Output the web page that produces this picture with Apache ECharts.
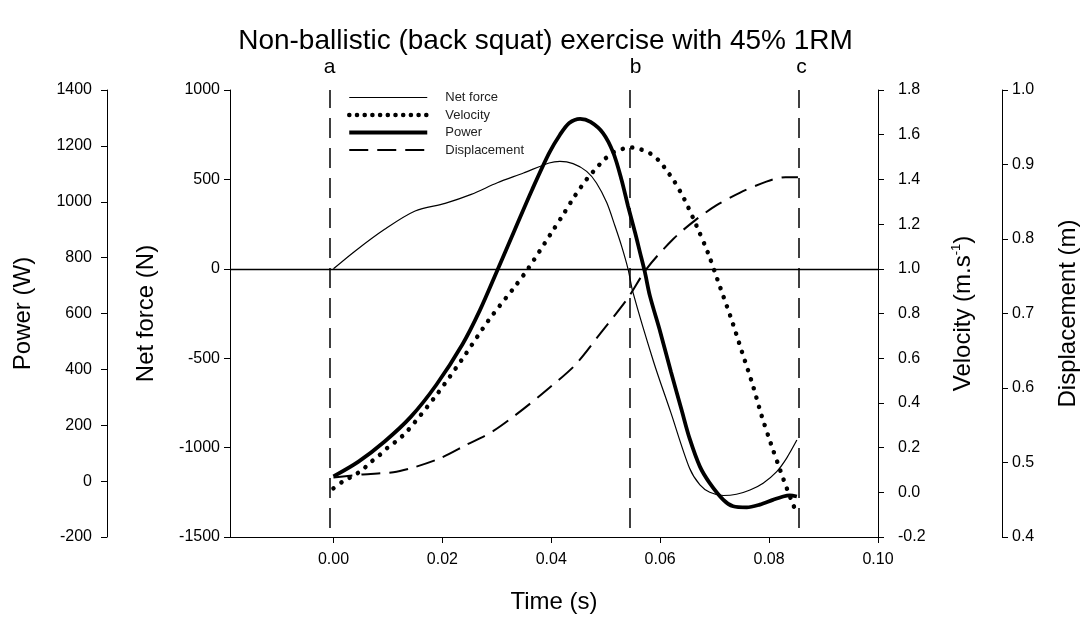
<!DOCTYPE html>
<html>
<head>
<meta charset="utf-8">
<script src="https://cdn.jsdelivr.net/npm/echarts@6/dist/echarts.min.js"></script>
<style>
  html, body { margin: 0; padding: 0; background: #fff; }
  #chart { width: 1091px; height: 619px; }
</style>
</head>
<body>
<div id="chart"></div>
<script>
// values (time in s)
const forceTime = [0, 0.004, 0.0094, 0.015, 0.0205, 0.0253, 0.0301, 0.0349, 0.0396, 0.0416, 0.044, 0.0465, 0.0483, 0.0502, 0.0517, 0.0529, 0.0541, 0.055, 0.0588, 0.0619, 0.0654, 0.0673, 0.0691, 0.0716, 0.074, 0.0765, 0.0789, 0.0814, 0.0832, 0.0851]
const forceValues = [0, 100, 221, 323, 366, 416, 481, 536, 592, 601, 588, 545, 480, 369, 239, 128, -2, -132, -521, -799, -1116, -1209, -1250, -1268, -1261, -1237, -1199, -1134, -1060, -958]

const velocityTime = [0, 0.0018, 0.0035, 0.0053, 0.0068, 0.0084, 0.0100, 0.0117, 0.0135, 0.0189, 0.0237, 0.0285, 0.0333, 0.0357, 0.0400, 0.0422, 0.0443, 0.0467, 0.0482, 0.0497, 0.0514, 0.0532, 0.0549, 0.0566, 0.0583, 0.0600, 0.0613, 0.0625, 0.0644, 0.0667, 0.0688, 0.0706, 0.0730, 0.0750, 0.0770, 0.0786, 0.0803, 0.0821, 0.0833, 0.0846]
const velocityValues = [0.018, 0.05, 0.072, 0.10, 0.134, 0.165, 0.201, 0.232, 0.272, 0.435, 0.598, 0.77, 0.92, 0.999, 1.16, 1.243, 1.325, 1.407, 1.448, 1.488, 1.521, 1.537, 1.543, 1.533, 1.514, 1.478, 1.436, 1.395, 1.313, 1.191, 1.07, 0.946, 0.78, 0.63, 0.48, 0.345, 0.22, 0.095, 0.015, -0.066]

const powerTime = [0, 0.0046, 0.0094, 0.0142, 0.0189, 0.0237, 0.0269, 0.0301, 0.0333, 0.0365, 0.0396, 0.0416, 0.0433, 0.0453, 0.0472, 0.0495, 0.0514, 0.0529, 0.0541, 0.0554, 0.0563, 0.0572, 0.0581, 0.0600, 0.0620, 0.0640, 0.0654, 0.0673, 0.0691, 0.0716, 0.0734, 0.0759, 0.0783, 0.0807, 0.0826, 0.0838, 0.0851]
const powerValues = [17, 70, 142, 230, 345, 490, 612, 755, 900, 1044, 1174, 1240, 1282, 1297, 1286, 1246, 1175, 1079, 984, 889, 818, 747, 664, 535, 390, 250, 153, 52, -7, -67, -90, -94, -84, -67, -55, -51, -55]

const dispTime = [0, 0.0054, 0.011, 0.015, 0.0197, 0.0245, 0.0293, 0.0349, 0.0396, 0.0444, 0.0492, 0.054, 0.0575, 0.0624, 0.0664, 0.0703, 0.0746, 0.0795, 0.083, 0.0853]
const dispValues = [0.480, 0.484, 0.487, 0.494, 0.506, 0.524, 0.542, 0.572, 0.600, 0.631, 0.675, 0.72, 0.76, 0.80, 0.825, 0.845, 0.862, 0.877, 0.883, 0.883]

// phase markers a, b, c
const phaseNames = ['a', 'b', 'c']
const phaseTimes = [-0.0007, 0.0544, 0.0854]

const timeTicks = [0, 0.02, 0.04, 0.06, 0.08, 0.10]

const font = 'Liberation Sans, Arial, sans-serif'
const zip = (xs, ys) => xs.map((x, i) => [x, ys[i]])

const forceLine = { color: '#000', width: 1.2, type: 'solid' }
const velocityLine = { color: '#000', width: 4.5, type: [0.1, 9.5], cap: 'round' }
const powerLine = { color: '#000', width: 3.8, type: 'solid' }
const dispLine = { color: '#000', width: 2, type: [19, 9] }

const chart = echarts.init(document.getElementById('chart'), null, { renderer: 'canvas' })

function yAxisBase(extra, margin, digits) {
  return Object.assign({
    type: 'value',
    nameLocation: 'middle',
    nameRotate: 90,
    nameTextStyle: { fontSize: 24, color: '#000', fontFamily: font },
    axisLine: { show: true, onZero: false, lineStyle: { color: '#000', width: 1 } },
    axisTick: { show: true, length: 6, lineStyle: { color: '#000' } },
    axisLabel: {
      fontSize: 16, color: '#000', fontFamily: font, margin: margin,
      formatter: v => digits ? v.toFixed(digits) : String(Math.round(v))
    },
    splitLine: { show: false }
  }, extra)
}

let option = {
  backgroundColor: '#fff',
  animation: false,
  title: {
    text: 'Non-ballistic (back squat) exercise with 45% 1RM',
    left: 'center',
    top: 22,
    textStyle: { fontSize: 28, fontWeight: 'normal', color: '#000', fontFamily: font }
  },
  legend: {
    data: [
      { name: 'Net force', lineStyle: forceLine },
      { name: 'Velocity', lineStyle: Object.assign({}, velocityLine, { type: [0.1, 7.6] }) },
      { name: 'Power', lineStyle: powerLine },
      { name: 'Displacement', lineStyle: dispLine }
    ],
    orient: 'vertical',
    left: 342,
    top: 86,
    itemWidth: 78,
    itemHeight: 14,
    itemGap: 4.5,
    itemStyle: { opacity: 0 },
    textStyle: { fontSize: 13, color: '#222', fontFamily: font, padding: [0, 0, 0, 13] },
    selectedMode: false
  },
  grid: { left: 230, right: 213, top: 90, bottom: 80, containLabel: false },
  xAxis: {
    type: 'value',
    min: -0.019,
    max: 0.1,
    name: 'Time (s)',
    nameLocation: 'middle',
    nameGap: 53,
    nameTextStyle: { fontSize: 24, color: '#000', fontFamily: font },
    axisLine: { show: true, onZero: false, lineStyle: { color: '#000', width: 1 } },
    axisTick: { show: true, length: 6, customValues: timeTicks, lineStyle: { color: '#000' } },
    axisLabel: {
      customValues: timeTicks, fontSize: 16, color: '#000', fontFamily: font, margin: 15,
      formatter: v => v.toFixed(2)
    },
    splitLine: { show: false }
  },
  yAxis: [
    yAxisBase({ name: 'Net force (N)', position: 'left', min: -1500, max: 1000, interval: 500, nameGap: 72 }, 10, 0),
    yAxisBase({ name: 'Power (W)', position: 'left', offset: 123, min: -200, max: 1400, interval: 200, nameGap: 72 }, 15, 0),
    yAxisBase({ name: 'Velocity (m.s{sup|-1})', position: 'right', min: -0.2, max: 1.8, interval: 0.2, nameGap: 72,
      nameTextStyle: { fontSize: 24, color: '#000', fontFamily: font, lineHeight: 26,
        rich: { sup: { fontSize: 13, verticalAlign: 'top', color: '#000', fontFamily: font, lineHeight: 26 } } } }, 20, 1),
    yAxisBase({ name: 'Displacement (m)', position: 'right', offset: 124, min: 0.4, max: 1.0, interval: 0.1, nameGap: 54 }, 10, 1)
  ],
  series: [
    {
      name: 'Net force',
      type: 'line',
      yAxisIndex: 0,
      data: zip(forceTime, forceValues),
      smooth: 0.3,
      symbol: 'none',
      lineStyle: forceLine,
      itemStyle: { color: '#000' },
      z: 3,
      markLine: {
        silent: true,
        symbol: ['none', 'none'],
        precision: 6,
        animation: false,
        data: [
          { yAxis: 0, lineStyle: { type: 'solid', width: 1.3, color: '#000' }, label: { show: false } }
        ].concat(phaseNames.map((n, i) => ({
          xAxis: phaseTimes[i],
          lineStyle: { type: [20, 10], dashOffset: 21, width: 1.5, color: '#000' },
          label: { show: true, position: 'end', formatter: n, fontSize: 21, color: '#000', fontFamily: font,
            distance: 12, offset: [i === 1 ? 6 : (i === 2 ? 3 : 0), 0] }
        })))
      }
    },
    {
      name: 'Velocity',
      type: 'line',
      yAxisIndex: 2,
      data: zip(velocityTime, velocityValues),
      smooth: 0.3,
      symbol: 'none',
      lineStyle: velocityLine,
      itemStyle: { color: '#000' },
      z: 3
    },
    {
      name: 'Power',
      type: 'line',
      yAxisIndex: 1,
      data: zip(powerTime, powerValues),
      smooth: 0.3,
      symbol: 'none',
      lineStyle: powerLine,
      itemStyle: { color: '#000' },
      z: 4
    },
    {
      name: 'Displacement',
      type: 'line',
      yAxisIndex: 3,
      data: zip(dispTime, dispValues),
      smooth: 0.3,
      symbol: 'none',
      lineStyle: dispLine,
      itemStyle: { color: '#000' },
      z: 3
    }
  ]
}

chart.setOption(option)
</script>
</body>
</html>
